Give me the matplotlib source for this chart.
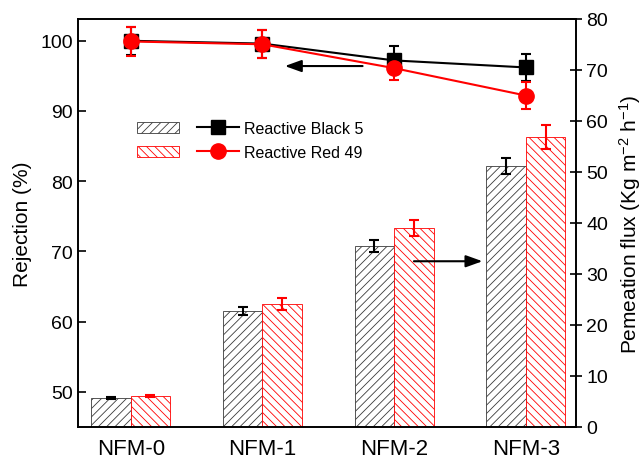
import matplotlib
matplotlib.use("Agg")
import matplotlib.pyplot as plt
import numpy as np
from matplotlib.patches import Patch
from matplotlib.lines import Line2D
from matplotlib.legend_handler import HandlerTuple

plt.rcParams['font.family'] = ['Liberation Sans', 'DejaVu Sans']
plt.rcParams['mathtext.default'] = 'regular'
plt.rcParams['hatch.linewidth'] = 0.6

# data
samples = ['NFM-0', 'NFM-1', 'NFM-2', 'NFM-3']

rej_rb5 = [100.0, 99.6, 97.2, 96.2]
rej_rb5_err = [2.0, 2.0, 2.0, 1.9]
rej_rr49 = [99.9, 99.5, 96.1, 92.2]
rej_rr49_err = [2.0, 2.0, 1.7, 1.9]

flux_rb5 = [5.7, 22.7, 35.5, 51.1]
flux_rb5_err = [0.2, 0.75, 1.15, 1.55]
flux_rr49 = [6.1, 24.1, 39.0, 56.8]
flux_rr49_err = [0.2, 1.1, 1.5, 2.35]

labels = ['Reactive Black 5', 'Reactive Red 49']


def main():
    fig = plt.figure(figsize=(6.44, 4.6), dpi=100)
    ax = fig.add_axes([78 / 644, 1 - 428 / 460, 498 / 644, 408 / 460])
    ax2 = ax.twinx()
    x = np.arange(len(samples))
    w = 0.3

    # bars: permeation flux on the right axis
    ax2.bar(x - w / 2, flux_rb5, w, facecolor='white', edgecolor='#3a3a3a',
            hatch='////', linewidth=0.6)
    ax2.bar(x + w / 2, flux_rr49, w, facecolor='white', edgecolor='red',
            hatch='\\\\\\\\', linewidth=0.6)
    ax2.errorbar(x - w / 2, flux_rb5, yerr=flux_rb5_err, fmt='none',
                 ecolor='black', elinewidth=1.5, capsize=3.5, capthick=1.5)
    ax2.errorbar(x + w / 2, flux_rr49, yerr=flux_rr49_err, fmt='none',
                 ecolor='red', elinewidth=1.5, capsize=3.5, capthick=1.5)

    # lines: rejection on the left axis
    ax.errorbar(x, rej_rb5, yerr=rej_rb5_err, color='black', marker='s',
                markersize=10, linewidth=1.5, capsize=3.5, capthick=1.5,
                elinewidth=1.5)
    ax.errorbar(x, rej_rr49, yerr=rej_rr49_err, color='red', marker='o',
                markersize=11, linewidth=1.5, capsize=3.5, capthick=1.5,
                elinewidth=1.5)

    ax.set_zorder(ax2.get_zorder() + 1)
    ax.patch.set_visible(False)

    ax.set_xlim(-0.4, 3.38)
    ax.set_ylim(45, 103.1)
    ax2.set_ylim(0, 80)

    ax.set_yticks([50, 60, 70, 80, 90, 100])
    ax2.set_yticks(np.arange(0, 81, 10))
    ax.set_xticks(x)
    ax.set_xticklabels(samples, fontsize=16)
    ax.tick_params(axis='x', length=0, pad=8)
    ax.tick_params(axis='y', direction='in', length=6, width=1.2,
                   labelsize=14)
    ax2.tick_params(axis='y', direction='inout', length=8, width=1.2,
                    labelsize=14)

    for a in (ax, ax2):
        for s in a.spines.values():
            s.set_linewidth(1.2)

    ax.set_ylabel('Rejection (%)', fontsize=15, labelpad=6)
    ax2.set_ylabel('Pemeation flux (Kg m$^{-2}$ h$^{-1}$)', fontsize=15,
                   labelpad=6)

    # arrows pointing to the matching axis
    arrow = dict(arrowstyle='-|>,head_length=0.5,head_width=0.18',
                 color='black', lw=1.5, mutation_scale=20, shrinkA=0,
                 shrinkB=0)
    ax.annotate('', xy=(1.17, 96.4), xytext=(1.76, 96.4), arrowprops=arrow)
    ax2.annotate('', xy=(2.67, 32.5), xytext=(2.15, 32.5), arrowprops=arrow)

    # legend: hatched patch + line marker in one row
    h1 = (Patch(facecolor='white', edgecolor='#3a3a3a', hatch='////',
                linewidth=0.6),
          Line2D([], [], color='black', marker='s', markersize=10, lw=1.5))
    h2 = (Patch(facecolor='white', edgecolor='red', hatch='\\\\\\\\',
                linewidth=0.6),
          Line2D([], [], color='red', marker='o', markersize=11, lw=1.5))
    ax.legend([h1, h2], labels,
              handler_map={tuple: HandlerTuple(ndivide=None, pad=1.1)},
              loc='upper left', bbox_to_anchor=(0.118, 0.75), frameon=False,
              fontsize=11.5, handlelength=6.4, handletextpad=0.3,
              borderpad=0, borderaxespad=0, labelspacing=0.55)

    fig.savefig('out.png', dpi=100)
    plt.close(fig)


if __name__ == '__main__':
    main()
